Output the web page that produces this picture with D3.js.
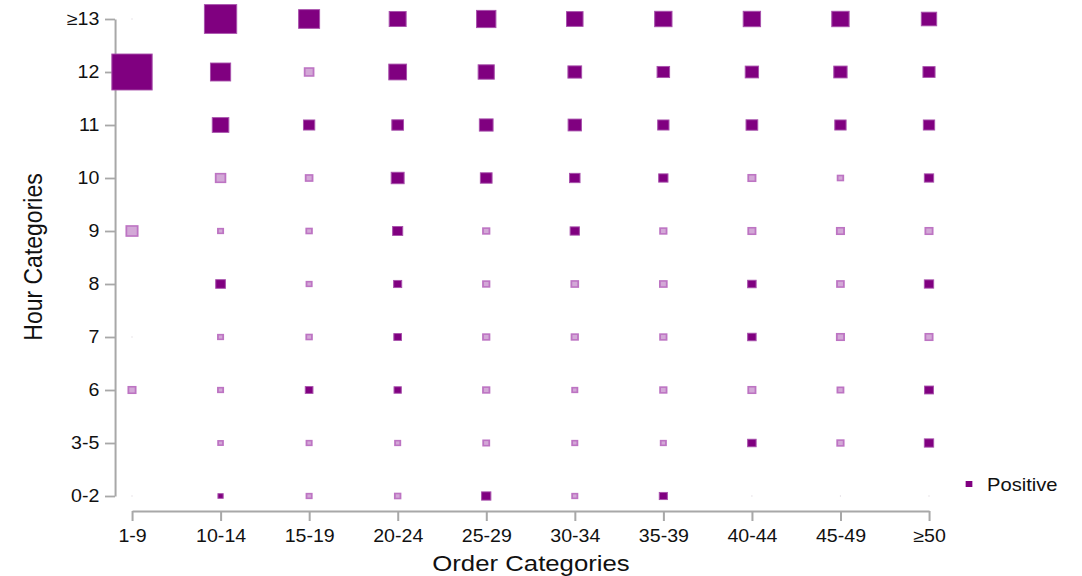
<!DOCTYPE html>
<html>
<head>
<meta charset="utf-8">
<script src="https://cdn.jsdelivr.net/npm/d3@7"></script>
<style>
  html, body { margin: 0; padding: 0; background: #fff; }
  svg { display: block; }
  text { font-family: "Liberation Sans", Arial, sans-serif; fill: #111; }
</style>
</head>
<body>
<svg id="chart"></svg>
<script>
// categories
const orderCats = ['1-9', '10-14', '15-19', '20-24', '25-29', '30-34', '35-39', '40-44', '45-49', '≥50'];
const hourCats = ['0-2', '3-5', '6', '7', '8', '9', '10', '11', '12', '≥13'];

// signed weights per hour row (positive = dark, negative = light)
const hr13 = [-0.02, 0.80, 0.52, 0.42, 0.48, 0.41, 0.43, 0.43, 0.43, 0.38];
const hr12 = [1.00, 0.50, -0.22, 0.44, 0.40, 0.34, 0.31, 0.33, 0.33, 0.30];
const hr11 = [0, 0.41, 0.28, 0.29, 0.34, 0.33, 0.28, 0.29, 0.28, 0.28];
const hr10 = [0, -0.24, -0.17, 0.32, 0.29, 0.26, 0.23, -0.18, -0.14, 0.23];
const hr9 = [-0.28, -0.13, -0.14, 0.25, -0.16, 0.23, -0.16, -0.18, -0.18, -0.18];
const hr8 = [0, 0.24, -0.13, 0.20, -0.16, -0.17, -0.17, 0.21, -0.17, 0.23];
const hr7 = [-0.02, -0.13, -0.14, 0.19, -0.16, -0.16, -0.16, 0.21, -0.18, -0.18];
const hr6 = [-0.18, -0.13, 0.19, 0.18, -0.16, -0.13, -0.16, -0.18, -0.15, 0.22];
const hr3to5 = [0, -0.12, -0.13, -0.13, -0.15, -0.13, -0.13, 0.21, -0.16, 0.23];
const hr0to2 = [-0.02, 0.13, -0.13, -0.14, 0.23, -0.13, 0.20, -0.02, -0.02, -0.02];

const rows = [hr0to2, hr3to5, hr6, hr7, hr8, hr9, hr10, hr11, hr12, hr13];

// the original picture is stretched horizontally, so draw in a narrower box
const stretch = 1.12;
const W = 1082 / stretch, H = 576;

const svg = d3.select('#chart')
  .attr('width', 1082)
  .attr('height', H)
  .attr('viewBox', `0 0 ${W} ${H}`)
  .attr('preserveAspectRatio', 'none');

const x = d3.scalePoint().domain(orderCats).range([132 / stretch, 929 / stretch]);
const y = d3.scalePoint().domain(hourCats).range([496, 19]);
const side = d3.scaleLinear().domain([0, 1]).range([0, 36]);

const cells = [];
rows.forEach((r, i) => r.forEach((v, j) => {
  if (v !== 0) cells.push({hour: hourCats[i], order: orderCats[j], v});
}));

const axisColor = '#a8a8a8';

// x axis
const gx = svg.append('g').attr('transform', 'translate(0,511)')
  .call(d3.axisBottom(x).tickSize(10).tickSizeOuter(0).tickPadding(9));
gx.select('.domain').attr('stroke', axisColor).attr('stroke-width', 1.8);
gx.selectAll('.tick line').attr('stroke', axisColor).attr('stroke-width', 1.8);
gx.selectAll('.tick text').attr('font-size', 17.5).attr('fill', '#111')
  .attr('font-family', '"Liberation Sans", Arial, sans-serif');

// y axis
const gy = svg.append('g').attr('transform', `translate(${115 / stretch},0)`)
  .call(d3.axisLeft(y).tickSize(10 / stretch).tickSizeOuter(0).tickPadding(5));
gy.select('.domain').attr('stroke', axisColor).attr('stroke-width', 1.8);
gy.selectAll('.tick line').attr('stroke', axisColor).attr('stroke-width', 1.8);
gy.selectAll('.tick text').attr('font-size', 17.5).attr('fill', '#111')
  .attr('font-family', '"Liberation Sans", Arial, sans-serif');

// squares
svg.append('g').selectAll('rect')
  .data(cells)
  .join('rect')
  .attr('x', d => x(d.order) - Math.max(side(Math.abs(d.v)), 1) / 2)
  .attr('y', d => y(d.hour) - Math.max(side(Math.abs(d.v)), 1) / 2)
  .attr('width', d => Math.max(side(Math.abs(d.v)), 1))
  .attr('height', d => Math.max(side(Math.abs(d.v)), 1))
  .attr('fill', d => d.v > 0 ? '#800080' : (Math.abs(d.v) < 0.05 ? '#d8d0d8' : '#d3a8d7'))
  .attr('stroke', d => d.v > 0 ? '#a852ac' : (Math.abs(d.v) < 0.05 ? 'none' : '#bd74c3'))
  .attr('stroke-width', d => d.v > 0 ? 0.9 : 1.6);

// axis titles
svg.append('text')
  .attr('x', 531 / stretch).attr('y', 571)
  .attr('text-anchor', 'middle').attr('font-size', 23)
  .text('Order Categories');

svg.append('text')
  .attr('transform', `translate(${42 / stretch},257) rotate(-90)`)
  .attr('text-anchor', 'middle').attr('font-size', 23)
  .text('Hour Categories');

// legend
const lg = svg.append('g');
lg.append('rect')
  .attr('x', 969 / stretch - 3).attr('y', 481)
  .attr('width', 6).attr('height', 6)
  .attr('fill', '#800080');
lg.append('text')
  .attr('x', 987 / stretch).attr('y', 491)
  .attr('font-size', 18)
  .text('Positive');
</script>
</body>
</html>
